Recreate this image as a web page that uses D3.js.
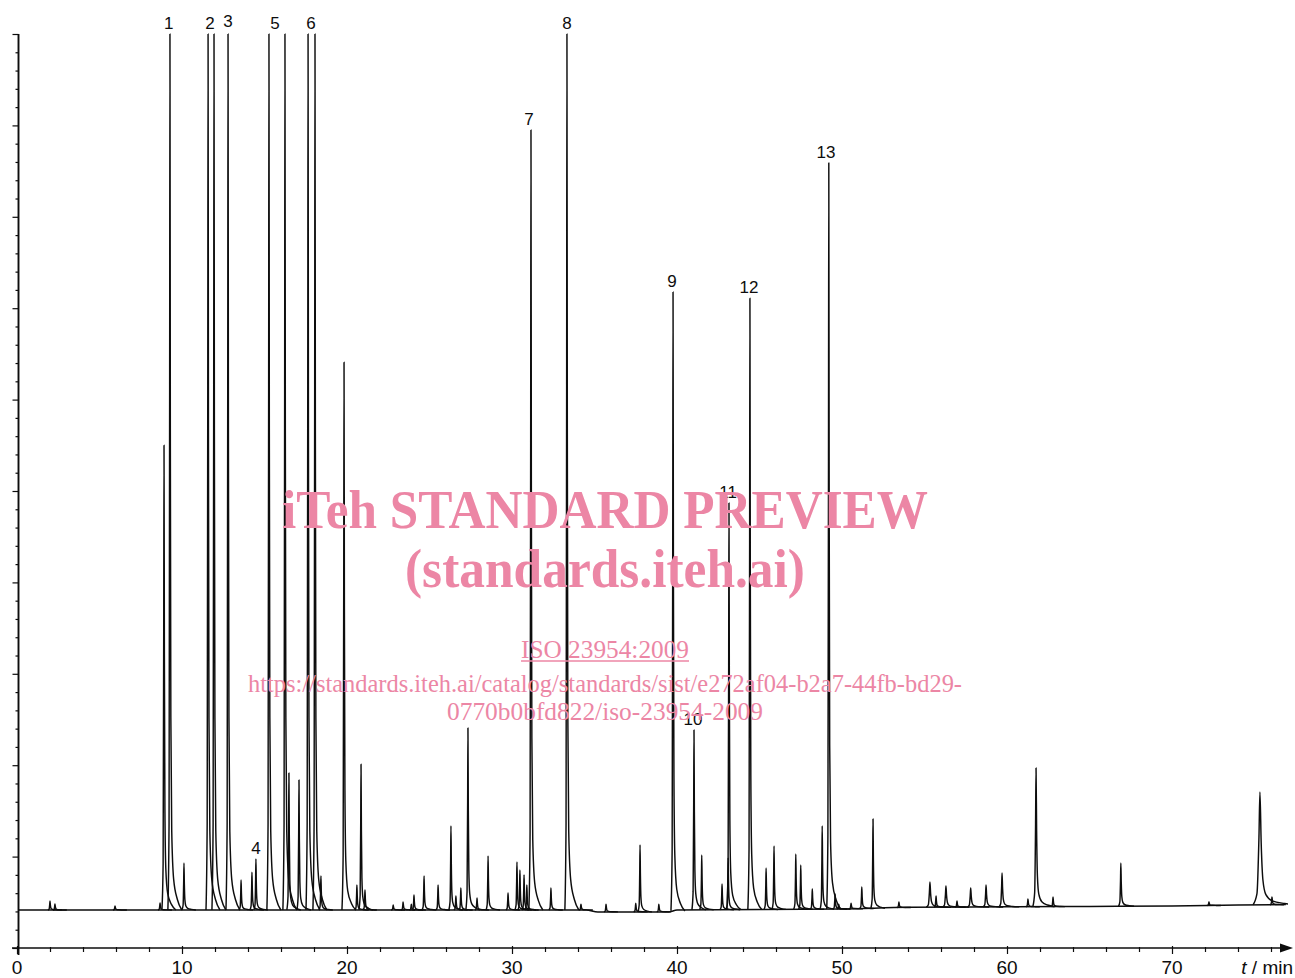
<!DOCTYPE html>
<html>
<head>
<meta charset="utf-8">
<script src="https://cdn.jsdelivr.net/npm/d3@7"></script>
<style>
  html, body { margin: 0; padding: 0; background: #fff; }
  svg { display: block; }
</style>
</head>
<body>
<svg id="chart" width="1295" height="978"></svg>
<script>
// ---------------- DATA ----------------
// retention times (min) of the peaks
const peakTimes = [2.0, 2.3, 5.94, 8.67, 8.91, 9.27, 10.12, 11.58, 11.94, 12.79, 13.58, 14.24, 14.48,
  15.27, 16.24, 16.48, 17.09, 17.64, 18.06, 18.42, 19.82, 20.6, 20.85, 21.09, 22.8, 23.4, 23.9, 24.06,
  24.67, 25.52, 26.3, 26.6, 26.9, 27.33, 27.88, 28.55, 29.76, 30.3, 30.48, 30.73, 30.9, 31.15, 32.36,
  33.33, 34.18, 35.7, 37.5, 37.76, 38.9, 39.76, 41.03, 41.5, 42.73, 43.1, 43.15, 44.42, 45.4, 45.88,
  47.2, 47.5, 48.2, 48.8, 49.2, 49.58, 49.8, 50.55, 51.2, 51.88, 53.45, 55.33, 55.7, 56.3, 56.97, 57.8,
  58.73, 59.7, 61.27, 61.76, 62.79, 66.9, 72.24, 75.33, 76.06];
// apex signal (axis units, full scale = 100)
const peakValues = [5.14, 4.81, 4.6, 4.92, 55.0, 100, 9.3, 100, 100, 100, 7.44, 8.3, 9.74,
  100, 100, 19.15, 18.38, 100, 100, 7.88, 64.1, 6.9, 20.1, 6.35, 4.7, 5.03, 4.8, 5.8,
  7.88, 6.9, 13.35, 5.7, 6.56, 24.07, 5.47, 10.07, 6.02, 9.41, 8.53, 7.99, 6.9, 89.5, 6.56,
  100, 4.8, 4.8, 4.9, 11.27, 4.8, 71.77, 23.85, 10.17, 7.0, 9.85, 48.7, 71.1, 8.75, 11.16,
  10.28, 9.08, 6.46, 13.35, 85.9, 5.9, 4.8, 4.9, 6.67, 14.11, 5.03, 7.22, 5.7, 6.78, 5.14, 6.56,
  6.9, 8.2, 5.36, 19.7, 5.58, 9.3, 5.03, 17.07, 5.58];
// broader peaks (time -> base half width, min)
const widePeakTimes = [55.33, 56.3, 57.8, 58.73, 59.7, 61.76, 66.9, 75.33];
const widePeakWidths = [0.16, 0.15, 0.14, 0.13, 0.13, 0.14, 0.1, 0.3];

// baseline drift
const baseTimes = [0, 9, 20, 34.5, 35.2, 39.5, 40, 50, 54, 60, 65, 70, 74, 76.9];
const baseValues = [4.16, 4.16, 4.16, 4.16, 3.95, 3.95, 4.16, 4.27, 4.45, 4.5, 4.55, 4.6, 4.7, 4.75];

// numbered peak labels
const labelNames = ["1", "2", "3", "4", "5", "6", "7", "8", "9", "10", "11", "12", "13"];
const labelTimes = [9.2, 11.7, 12.79, 14.48, 15.64, 17.82, 31.03, 33.33, 39.7, 40.97, 43.1, 44.36, 49.03];
const labelValues = [100, 100, 100.2, 9.74, 100, 100, 89.5, 100, 71.77, 23.85, 48.7, 71.1, 85.9];

// axis ticks
const xMajorTicks = [0, 10, 20, 30, 40, 50, 60, 70];
const xMinorTicks = d3.range(0, 77, 2);
const yTicks = d3.range(0, 101, 2);
const xAxisTitle = ["t", " / min"];

// watermark lines
const wmTitle = "iTeh STANDARD PREVIEW";
const wmSub = "(standards.iteh.ai)";
const wmIso = "ISO 23954:2009";
const wmUrl1 = "https://standards.iteh.ai/catalog/standards/sist/e272af04-b2a7-44fb-bd29-";
const wmUrl2 = "0770b0bfd822/iso-23954-2009";

// ---------------- DRAW ----------------
const svg = d3.select("#chart");
const W = 1295, H = 978;
svg.append("rect").attr("width", W).attr("height", H).attr("fill", "#fff");

const x = d3.scaleLinear().domain([0, 70]).range([17, 1172]);
const y = d3.scaleLinear().domain([0, 100]).range([948, 34]);
const baseAt = d3.scaleLinear().domain(baseTimes).range(baseValues).clamp(true);

const sans = "'Liberation Sans', Arial, Helvetica, sans-serif";
const serif = "'Liberation Serif', 'Times New Roman', Times, serif";
const ink = "#0d0d0d";

svg.append("clipPath").attr("id", "plotclip")
  .append("rect").attr("x", 18).attr("y", 33).attr("width", 1270).attr("height", 912);

const plot = svg.append("g").attr("clip-path", "url(#plotclip)");

// baseline trace
const line = d3.line().x(d => x(d[0])).y(d => y(d[1])).curve(d3.curveMonotoneX);
plot.append("path")
  .attr("d", line(baseTimes.map((t, i) => [t, baseValues[i]])))
  .attr("fill", "none").attr("stroke", ink).attr("stroke-width", 1.5);

// peaks
const profile = [[-1.4, 0], [-0.6, 0.1], [-0.2, 0.6], [0, 1], [0.25, 0.55], [0.6, 0.22],
  [1.2, 0.09], [2.5, 0.035], [5, 0.012], [8, 0]];
peakTimes.forEach((t, i) => {
  const v = peakValues[i];
  const wi = widePeakTimes.indexOf(t);
  const w = wi >= 0 ? widePeakWidths[wi] : 0.09;
  const b = baseAt(t);
  const h = v - b;
  const pts = profile.map(p => [t + p[0] * w, b + p[1] * h]);
  plot.append("path")
    .attr("d", line(pts))
    .attr("fill", "none").attr("stroke", ink).attr("stroke-width", 1.45)
    .attr("stroke-linejoin", "round");
});

// y axis
const yAxis = d3.axisLeft(y).tickValues(yTicks).tickFormat("").tickSize(3).tickSizeOuter(0);
const gy = svg.append("g").attr("transform", "translate(18.5,0)").call(yAxis);
gy.select(".domain").remove();
gy.selectAll(".tick line")
  .attr("x2", d => (d % 10 === 0 ? -6 : -3))
  .attr("stroke", ink).attr("stroke-width", 1.2);
svg.append("line").attr("x1", 18.5).attr("x2", 18.5).attr("y1", y(100)).attr("y2", 955)
  .attr("stroke", ink).attr("stroke-width", 1.9);

// x axis
const xAxis = d3.axisBottom(x).tickValues(xMinorTicks).tickFormat("").tickSize(4).tickSizeOuter(0);
const gx = svg.append("g").attr("transform", "translate(0,948)").call(xAxis);
gx.select(".domain").remove();
gx.selectAll(".tick line")
  .attr("y1", d => (d % 10 === 0 ? -2 : -1))
  .attr("y2", d => (d % 10 === 0 ? 6 : 4))
  .attr("stroke", ink).attr("stroke-width", 1.2);
svg.append("line").attr("x1", 12).attr("x2", 1282).attr("y1", 948).attr("y2", 948)
  .attr("stroke", ink).attr("stroke-width", 1.7);
svg.append("path").attr("d", "M1280,943.5 L1293,948 L1280,952.5 Z").attr("fill", ink);

svg.append("g").selectAll("text").data(xMajorTicks).join("text")
  .attr("x", d => x(d)).attr("y", 974)
  .attr("text-anchor", "middle")
  .attr("font-family", sans).attr("font-size", 19).attr("fill", ink)
  .text(d => d);

const xt = svg.append("text").attr("x", 1293).attr("y", 974).attr("text-anchor", "end")
  .attr("font-family", sans).attr("font-size", 19).attr("fill", ink);
xt.append("tspan").attr("font-style", "italic").text(xAxisTitle[0]);
xt.append("tspan").text(xAxisTitle[1]);

// peak labels
svg.append("g").selectAll("text").data(labelNames).join("text")
  .attr("x", (d, i) => x(labelTimes[i]))
  .attr("y", (d, i) => y(labelValues[i]) - 5)
  .attr("text-anchor", "middle")
  .attr("font-family", sans).attr("font-size", 17).attr("fill", ink)
  .text(d => d);

// watermark
const pink = "#ec86a5";
const wm = svg.append("g").attr("fill", pink).attr("font-family", serif).attr("text-anchor", "middle");
wm.append("text").attr("x", 605).attr("y", 528).attr("font-size", 54).attr("font-weight", "bold")
  .attr("textLength", 646).attr("lengthAdjust", "spacingAndGlyphs").text(wmTitle);
wm.append("text").attr("x", 605).attr("y", 587).attr("font-size", 54).attr("font-weight", "bold")
  .attr("textLength", 400).attr("lengthAdjust", "spacingAndGlyphs").text(wmSub);
wm.append("text").attr("x", 605).attr("y", 658).attr("font-size", 25)
  .attr("textLength", 168).attr("lengthAdjust", "spacingAndGlyphs").text(wmIso);
wm.append("line").attr("x1", 521).attr("x2", 689).attr("y1", 661).attr("y2", 661)
  .attr("stroke", pink).attr("stroke-width", 1.3);
wm.append("text").attr("x", 605).attr("y", 692).attr("font-size", 25)
  .attr("textLength", 714).attr("lengthAdjust", "spacingAndGlyphs").text(wmUrl1);
wm.append("text").attr("x", 605).attr("y", 720).attr("font-size", 25)
  .attr("textLength", 316).attr("lengthAdjust", "spacingAndGlyphs").text(wmUrl2);
</script>
</body>
</html>
